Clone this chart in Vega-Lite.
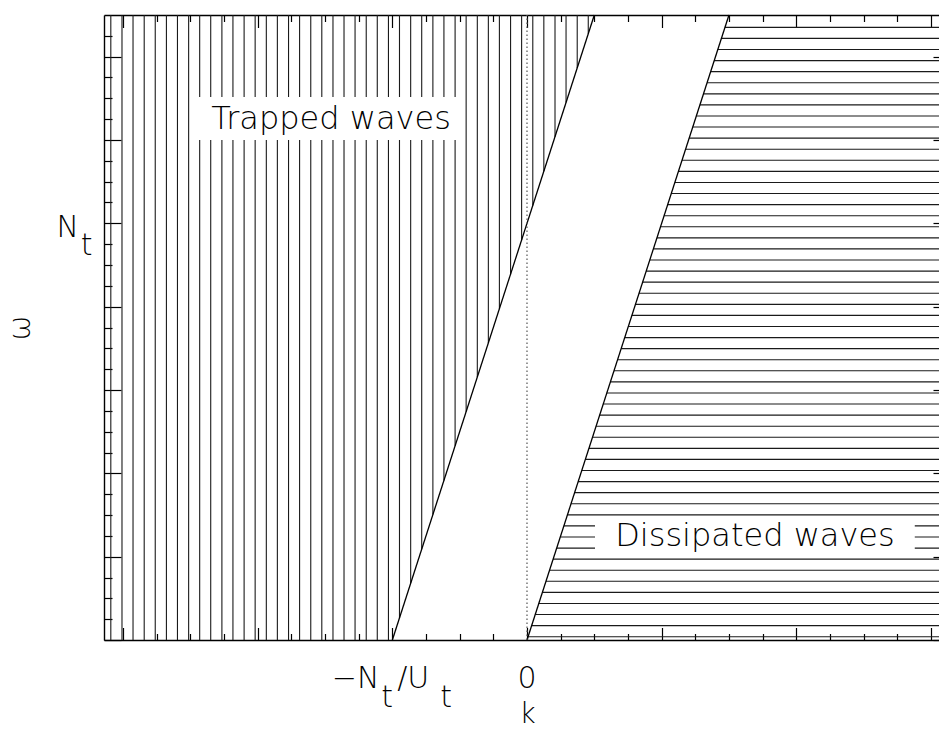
{
  "$schema": "https://vega.github.io/schema/vega-lite/v6.json",
  "description": "Dispersion diagram in the (k, omega) plane: trapped waves left of omega = N_t + U_t k, dissipated waves right of omega = U_t k. k in units of N_t/U_t, omega in units of N_t.",
  "width": 846,
  "height": 625,
  "autosize": {"type": "none"},
  "padding": {"left": 104, "top": 15, "right": -11, "bottom": 89},
  "background": "white",
  "config": {
    "view": {"stroke": null},
    "axis": {
      "grid": false,
      "labels": false,
      "domainColor": "black",
      "domainWidth": 1.4,
      "tickColor": "black",
      "tickWidth": 1.2,
      "titleFont": "DejaVu Sans",
      "titleFontWeight": 200,
      "titleFontSize": 28,
      "titleColor": "black"
    },
    "text": {"font": "DejaVu Sans", "fontWeight": 200, "color": "black"}
  },
  "resolve": {"axis": {"x": "independent", "y": "independent"}},
  "datasets": {
    "trapped_hatch": [
      {"k": -3.091, "w0": 0, "w1": 1.5}, {"k": -3.008, "w0": 0, "w1": 1.5},
      {"k": -2.926, "w0": 0, "w1": 1.5}, {"k": -2.843, "w0": 0, "w1": 1.5},
      {"k": -2.761, "w0": 0, "w1": 1.5}, {"k": -2.678, "w0": 0, "w1": 1.5},
      {"k": -2.596, "w0": 0, "w1": 1.5}, {"k": -2.513, "w0": 0, "w1": 1.5},
      {"k": -2.431, "w0": 0, "w1": 1.5}, {"k": -2.349, "w0": 0, "w1": 1.5},
      {"k": -2.266, "w0": 0, "w1": 1.5}, {"k": -2.184, "w0": 0, "w1": 1.5},
      {"k": -2.101, "w0": 0, "w1": 1.5}, {"k": -2.019, "w0": 0, "w1": 1.5},
      {"k": -1.936, "w0": 0, "w1": 1.5}, {"k": -1.854, "w0": 0, "w1": 1.5},
      {"k": -1.771, "w0": 0, "w1": 1.5}, {"k": -1.689, "w0": 0, "w1": 1.5},
      {"k": -1.606, "w0": 0, "w1": 1.5}, {"k": -1.524, "w0": 0, "w1": 1.5},
      {"k": -1.441, "w0": 0, "w1": 1.5}, {"k": -1.359, "w0": 0, "w1": 1.5},
      {"k": -1.277, "w0": 0, "w1": 1.5}, {"k": -1.194, "w0": 0, "w1": 1.5},
      {"k": -1.112, "w0": 0, "w1": 1.5}, {"k": -1.029, "w0": 0, "w1": 1.5},
      {"k": -0.947, "w0": 0.053, "w1": 1.5}, {"k": -0.864, "w0": 0.136, "w1": 1.5},
      {"k": -0.782, "w0": 0.218, "w1": 1.5}, {"k": -0.699, "w0": 0.301, "w1": 1.5},
      {"k": -0.617, "w0": 0.383, "w1": 1.5}, {"k": -0.534, "w0": 0.466, "w1": 1.5},
      {"k": -0.452, "w0": 0.548, "w1": 1.5}, {"k": -0.369, "w0": 0.631, "w1": 1.5},
      {"k": -0.287, "w0": 0.713, "w1": 1.5}, {"k": -0.205, "w0": 0.795, "w1": 1.5},
      {"k": -0.122, "w0": 0.878, "w1": 1.5}, {"k": -0.040, "w0": 0.960, "w1": 1.5},
      {"k": 0.043, "w0": 1.043, "w1": 1.5}, {"k": 0.125, "w0": 1.125, "w1": 1.5},
      {"k": 0.208, "w0": 1.208, "w1": 1.5}, {"k": 0.290, "w0": 1.290, "w1": 1.5},
      {"k": 0.373, "w0": 1.373, "w1": 1.5}, {"k": 0.455, "w0": 1.455, "w1": 1.5}
    ],
    "dissipated_hatch": [
      {"w": 0.0079}, {"w": 0.0345}, {"w": 0.0611}, {"w": 0.0877}, {"w": 0.1143},
      {"w": 0.1409}, {"w": 0.1675}, {"w": 0.1940}, {"w": 0.2206}, {"w": 0.2472},
      {"w": 0.2738}, {"w": 0.3004}, {"w": 0.3270}, {"w": 0.3536}, {"w": 0.3802},
      {"w": 0.4068}, {"w": 0.4334}, {"w": 0.4599}, {"w": 0.4865}, {"w": 0.5131},
      {"w": 0.5397}, {"w": 0.5663}, {"w": 0.5929}, {"w": 0.6195}, {"w": 0.6461},
      {"w": 0.6727}, {"w": 0.6993}, {"w": 0.7258}, {"w": 0.7524}, {"w": 0.7790},
      {"w": 0.8056}, {"w": 0.8322}, {"w": 0.8588}, {"w": 0.8854}, {"w": 0.9120},
      {"w": 0.9386}, {"w": 0.9652}, {"w": 0.9917}, {"w": 1.0183}, {"w": 1.0449},
      {"w": 1.0715}, {"w": 1.0981}, {"w": 1.1247}, {"w": 1.1513}, {"w": 1.1779},
      {"w": 1.2045}, {"w": 1.2311}, {"w": 1.2576}, {"w": 1.2842}, {"w": 1.3108},
      {"w": 1.3374}, {"w": 1.3640}, {"w": 1.3906}, {"w": 1.4172}, {"w": 1.4438},
      {"w": 1.4704}
    ],
    "regions": [
      {"label": "Trapped waves", "k": -1.455, "w": 1.2515, "k0": -2.457, "k1": -0.512, "w0": 1.2, "w1": 1.303},
      {"label": "Dissipated waves", "k": 1.693, "w": 0.2496, "k0": 0.505, "k1": 2.880, "w0": 0.21, "w1": 0.29}
    ],
    "edges": [
      {"edge": "omega = N_t + U_t k", "k0": -1, "w0": 0, "k1": 0.5, "w1": 1.5},
      {"edge": "omega = U_t k", "k0": 0, "w0": 0, "k1": 1.5, "w1": 1.5}
    ],
    "tick_text": [
      {"text": "−N", "k": -1.273, "w": -0.1152},
      {"text": "t", "k": -1.039, "w": -0.160},
      {"text": "/U", "k": -0.845, "w": -0.1152},
      {"text": "t", "k": -0.600, "w": -0.160},
      {"text": "0", "k": 0, "w": -0.1152},
      {"text": "N", "k": -3.411, "w": 0.967},
      {"text": "t", "k": -3.270, "w": 0.924}
    ]
  },
  "layer": [
    {
      "data": {"name": "trapped_hatch"},
      "mark": {"type": "rule", "color": "#1a1a1a", "strokeWidth": 1.1},
      "encoding": {
        "x": {"field": "k", "type": "quantitative",
              "scale": {"domain": [-3.14159, 3.14159], "nice": false, "zero": false},
              "axis": {"orient": "bottom", "values": [-3, -2, -1, 0, 1, 2, 3], "tickSize": -12.5,
                       "title": "k", "titleX": 423, "titleY": 82, "titleBaseline": "alphabetic", "titleAlign": "center"}},
        "y": {"field": "w0", "type": "quantitative",
              "scale": {"domain": [0, 1.5], "nice": false, "zero": false},
              "axis": {"orient": "left", "values": [0, 0.2, 0.4, 0.6, 0.8, 1, 1.2, 1.4], "tickSize": -17,
                       "title": "ω", "titleFontSize": 30, "titleX": -84, "titleY": 312.5, "titleAngle": -90, "titleBaseline": "middle", "titleAlign": "center"}},
        "y2": {"field": "w1"}
      }
    },
    {
      "data": {"name": "dissipated_hatch"},
      "mark": {"type": "rule", "color": "#1a1a1a", "strokeWidth": 1.1},
      "encoding": {
        "x": {"field": "w", "type": "quantitative",
              "scale": {"domain": [-3.14159, 3.14159], "nice": false, "zero": false},
              "axis": {"orient": "top", "values": [-3, -2, -1, 0, 1, 2, 3], "tickSize": -12.5, "title": null}},
        "x2": {"datum": 3.14159},
        "y": {"field": "w", "type": "quantitative",
              "scale": {"domain": [0, 1.5], "nice": false, "zero": false},
              "axis": {"orient": "right", "values": [0, 0.2, 0.4, 0.6, 0.8, 1, 1.2, 1.4], "tickSize": -17, "title": null}}
      }
    },
    {
      "data": {"name": "regions"},
      "mark": {"type": "rect", "fill": "white"},
      "encoding": {
        "x": {"field": "k0", "type": "quantitative",
              "scale": {"domain": [-3.14159, 3.14159], "nice": false, "zero": false}, "axis": null},
        "x2": {"field": "k1"},
        "y": {"field": "w0", "type": "quantitative",
              "scale": {"domain": [0, 1.5], "nice": false, "zero": false}, "axis": null},
        "y2": {"field": "w1"}
      }
    },
    {
      "data": {"name": "edges"},
      "mark": {"type": "rule", "color": "black", "strokeWidth": 1.3},
      "encoding": {
        "x": {"field": "k0", "type": "quantitative",
              "scale": {"domain": [-3.14159, 3.14159], "nice": false, "zero": false},
              "axis": {"orient": "bottom", "domain": false, "tickSize": -6.5, "title": null,
                       "values": [-2.75, -2.5, -2.25, -1.75, -1.5, -1.25, -0.75, -0.5, -0.25, 0.25, 0.5, 0.75, 1.25, 1.5, 1.75, 2.25, 2.5, 2.75]}},
        "x2": {"field": "k1"},
        "y": {"field": "w0", "type": "quantitative",
              "scale": {"domain": [0, 1.5], "nice": false, "zero": false},
              "axis": {"orient": "left", "domain": false, "tickSize": -8, "title": null,
                       "values": [0.05, 0.1, 0.15, 0.25, 0.3, 0.35, 0.45, 0.5, 0.55, 0.65, 0.7, 0.75, 0.85, 0.9, 0.95, 1.05, 1.1, 1.15, 1.25, 1.3, 1.35, 1.45]}},
        "y2": {"field": "w1"}
      }
    },
    {
      "data": {"values": [{"k": 0}]},
      "mark": {"type": "rule", "color": "#555555", "strokeWidth": 1.2, "strokeDash": [1.5, 2.5]},
      "encoding": {
        "x": {"field": "k", "type": "quantitative",
              "scale": {"domain": [-3.14159, 3.14159], "nice": false, "zero": false},
              "axis": {"orient": "top", "domain": false, "tickSize": -6.5, "title": null,
                       "values": [-2.75, -2.5, -2.25, -1.75, -1.5, -1.25, -0.75, -0.5, -0.25, 0.25, 0.5, 0.75, 1.25, 1.5, 1.75, 2.25, 2.5, 2.75]}},
        "y": {"datum": 0, "type": "quantitative",
              "scale": {"domain": [0, 1.5], "nice": false, "zero": false},
              "axis": {"orient": "right", "domain": false, "tickSize": -8, "title": null,
                       "values": [0.05, 0.1, 0.15, 0.25, 0.3, 0.35, 0.45, 0.5, 0.55, 0.65, 0.7, 0.75, 0.85, 0.9, 0.95, 1.05, 1.1, 1.15, 1.25, 1.3, 1.35, 1.45]}},
        "y2": {"datum": 1.5}
      }
    },
    {
      "data": {"name": "regions"},
      "mark": {"type": "text", "fontSize": 32, "align": "center", "baseline": "middle"},
      "encoding": {
        "x": {"field": "k", "type": "quantitative",
              "scale": {"domain": [-3.14159, 3.14159], "nice": false, "zero": false}, "axis": null},
        "y": {"field": "w", "type": "quantitative",
              "scale": {"domain": [0, 1.5], "nice": false, "zero": false}, "axis": null},
        "text": {"field": "label"}
      }
    },
    {
      "data": {"name": "tick_text"},
      "mark": {"type": "text", "fontSize": 30, "align": "center", "baseline": "alphabetic"},
      "encoding": {
        "x": {"field": "k", "type": "quantitative",
              "scale": {"domain": [-3.14159, 3.14159], "nice": false, "zero": false}, "axis": null},
        "y": {"field": "w", "type": "quantitative",
              "scale": {"domain": [0, 1.5], "nice": false, "zero": false}, "axis": null},
        "text": {"field": "text"}
      }
    }
  ]
}
